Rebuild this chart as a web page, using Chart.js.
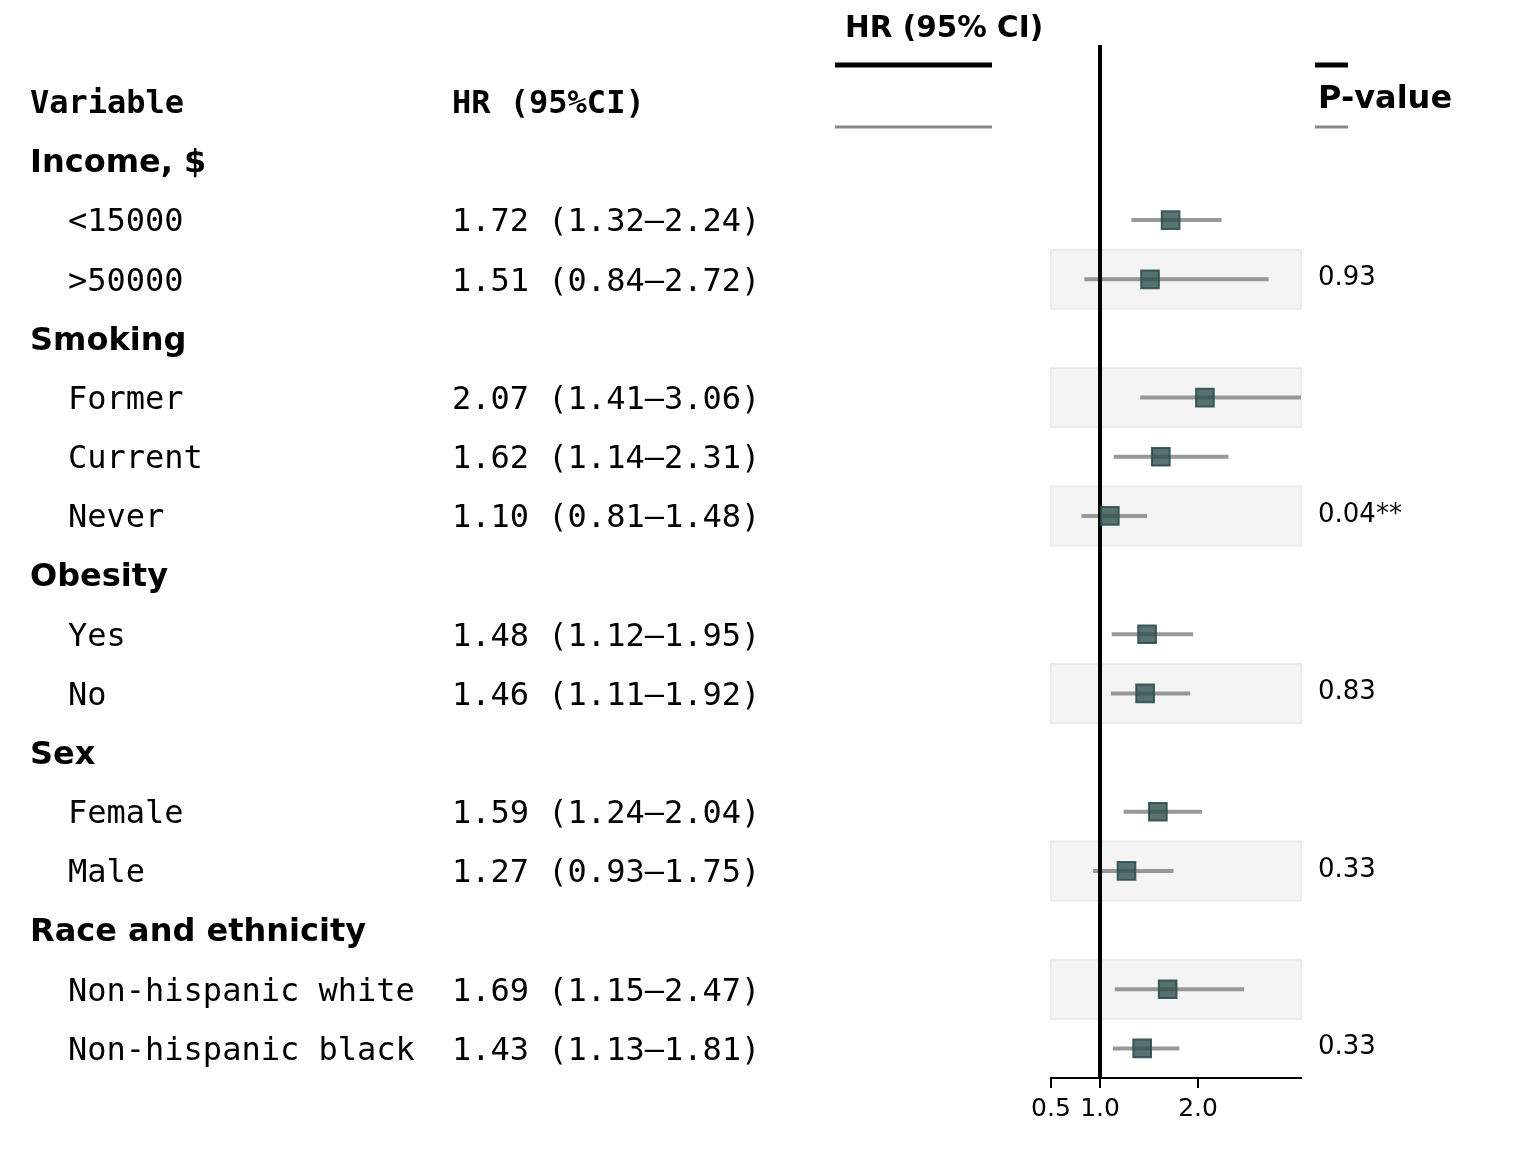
<!DOCTYPE html>
<html>
<head>
<meta charset="utf-8">
<script src="https://cdn.jsdelivr.net/npm/chart.js@4"></script>
<style>
  body { margin: 0; background: #fff; }
  #wrap { width: 1536px; height: 1152px; }
</style>
</head>
<body>
<div id="wrap"><canvas id="forestChart"></canvas></div>
<script>
// rows, top to bottom (group headers have no HR)
const rowLabels = ['Income, $', '<15000', '>50000', 'Smoking', 'Former', 'Current', 'Never',
    'Obesity', 'Yes', 'No', 'Sex', 'Female', 'Male', 'Race and ethnicity',
    'Non-hispanic white', 'Non-hispanic black'];
const hrValues = [null, 1.72, 1.51, null, 2.07, 1.62, 1.10, null, 1.48, 1.46, null, 1.59, 1.27, null, 1.69, 1.43];
const ciLower = [null, 1.32, 0.84, null, 1.41, 1.14, 0.81, null, 1.12, 1.11, null, 1.24, 0.93, null, 1.15, 1.13];
const ciUpper = [null, 2.24, 2.72, null, 3.06, 2.31, 1.48, null, 1.95, 1.92, null, 2.04, 1.75, null, 2.47, 1.81];
const pValues = ['', '', '0.93', '', '', '', '0.04**', '', '', '0.83', '', '', '0.33', '', '', '0.33'];
const stripedRows = [2, 4, 6, 9, 12, 14];
const xTicks = [0.5, 1.0, 2.0];

const MONO = '"DejaVu Sans Mono", monospace';
const SANS = '"DejaVu Sans", sans-serif';

const fmt = v => v.toFixed(2);

// one line dataset per confidence interval
const ciDatasets = [];
rowLabels.forEach((label, i) => {
    if (hrValues[i] === null) return;
    ciDatasets.push({
        type: 'line',
        data: [{ x: ciLower[i], y: i }, { x: ciUpper[i], y: i }],
        borderColor: 'rgba(128, 128, 128, 0.8)',
        borderWidth: 4,
        pointRadius: 0,
        order: 3
    });
});

const pointData = [];
rowLabels.forEach((label, i) => {
    if (hrValues[i] !== null) pointData.push({ x: hrValues[i], y: i });
});

// shaded stripes behind the rows
const stripePlugin = {
    id: 'stripes',
    beforeDatasetsDraw(chart) {
        const { ctx, chartArea, scales } = chart;
        ctx.save();
        stripedRows.forEach(i => {
            const top = scales.y.getPixelForValue(i - 0.5);
            const bottom = scales.y.getPixelForValue(i + 0.5);
            ctx.fillStyle = '#f4f4f4';
            ctx.fillRect(chartArea.left, top, chartArea.right - chartArea.left, bottom - top);
            ctx.strokeStyle = '#ececec';
            ctx.lineWidth = 2;
            ctx.strokeRect(chartArea.left, top, chartArea.right - chartArea.left, bottom - top);
        });
        ctx.restore();
    }
};

// table text on the left, p-values on the right, headers on top
const tablePlugin = {
    id: 'table',
    afterDraw(chart) {
        const { ctx, scales } = chart;
        const y = scales.y;
        const dy = 3;
        ctx.save();
        ctx.fillStyle = '#000';
        ctx.textBaseline = 'middle';
        ctx.textAlign = 'left';

        ctx.font = 'bold 32px ' + MONO;
        ctx.fillText('Variable', 30, y.getPixelForValue(-1) + dy);
        ctx.fillText('HR (95%CI)', 452, y.getPixelForValue(-1) + dy);

        rowLabels.forEach((label, i) => {
            const py = y.getPixelForValue(i) + dy;
            if (hrValues[i] === null) {
                ctx.font = 'bold 32px ' + SANS;
                ctx.fillText(label, 30, py);
            } else {
                ctx.font = '32px ' + MONO;
                ctx.fillText(label, 68, py);
                ctx.fillText(fmt(hrValues[i]) + ' (' + fmt(ciLower[i]) + '–' + fmt(ciUpper[i]) + ')', 452, py);
            }
            if (pValues[i]) {
                ctx.font = '26px ' + SANS;
                ctx.fillText(pValues[i], 1318, py - 4);
            }
        });

        ctx.font = 'bold 29.5px ' + SANS;
        ctx.fillText('HR (95% CI)', 845, 29);
        ctx.font = 'bold 32px ' + SANS;
        ctx.fillText('P-value', 1318, 100);

        ctx.lineWidth = 5;
        ctx.strokeStyle = '#000';
        ctx.beginPath();
        ctx.moveTo(835, 65); ctx.lineTo(992, 65);
        ctx.moveTo(1315, 65); ctx.lineTo(1348, 65);
        ctx.stroke();
        ctx.lineWidth = 3;
        ctx.strokeStyle = '#888';
        ctx.beginPath();
        ctx.moveTo(835, 127); ctx.lineTo(992, 127);
        ctx.moveTo(1315, 127); ctx.lineTo(1348, 127);
        ctx.stroke();
        ctx.restore();
    }
};

new Chart(document.getElementById('forestChart'), {
    type: 'scatter',
    data: {
        datasets: [
            {
                data: pointData,
                pointStyle: 'rect',
                pointRadius: 12.5,
                backgroundColor: 'rgba(47, 79, 79, 0.8)',
                borderColor: 'rgba(47, 79, 79, 0.9)',
                borderWidth: 2,
                order: 1
            },
            {
                type: 'line',
                data: [{ x: 1, y: -1.96 }, { x: 1, y: 15.5 }],
                borderColor: '#000',
                borderWidth: 4,
                pointRadius: 0,
                order: 2
            },
            ...ciDatasets
        ]
    },
    options: {
        responsive: true,
        maintainAspectRatio: false,
        animation: false,
        layout: { padding: { left: 1051, right: 235, top: 45, bottom: 0 } },
        plugins: {
            legend: { display: false },
            tooltip: { enabled: false }
        },
        scales: {
            x: {
                type: 'linear',
                min: 0.5,
                max: 3.05,
                afterBuildTicks: scale => { scale.ticks = xTicks.map(v => ({ value: v })); },
                afterFit: scale => { scale.height = 74; },
                ticks: {
                    autoSkip: false,
                    maxRotation: 0,
                    padding: 6,
                    color: '#000',
                    font: { family: 'DejaVu Sans', size: 25 },
                    callback: value => value.toFixed(1)
                },
                grid: {
                    drawOnChartArea: false,
                    drawTicks: true,
                    tickLength: 10,
                    color: '#000',
                    lineWidth: 2
                },
                border: { display: true, color: '#000', width: 2 }
            },
            y: {
                type: 'linear',
                reverse: true,
                min: -1.96,
                max: 15.5,
                display: false
            }
        }
    },
    plugins: [stripePlugin, tablePlugin]
});
</script>
</body>
</html>
